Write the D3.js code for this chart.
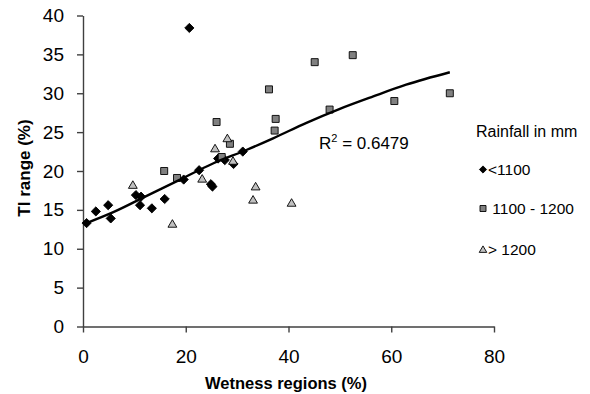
<!DOCTYPE html>
<html>
<head>
<meta charset="utf-8">
<script src="https://cdn.jsdelivr.net/npm/d3@7"></script>
<style>
  html, body { margin: 0; padding: 0; background: #fff; }
  svg { display: block; font-family: "Liberation Sans", Arial, sans-serif; }
</style>
</head>
<body>
<svg id="chart" width="590" height="394"></svg>
<script>
// ---- data ----
const lowRainX  = [0.7, 2.5, 4.9, 5.4, 10.3, 11.3, 11.1, 13.4, 15.9, 19.6, 22.6, 24.9, 25.2, 26.3, 27.6, 29.3, 31.1, 20.7];
const lowRainY  = [13.3, 14.8, 15.6, 13.9, 16.9, 16.7, 15.6, 15.2, 16.4, 18.9, 20.1, 18.3, 18.0, 21.6, 21.4, 20.9, 22.5, 38.4];
const midRainX  = [15.8, 18.3, 26.0, 27.0, 28.6, 36.2, 37.5, 37.3, 45.1, 52.5, 48.0, 60.6, 71.4];
const midRainY  = [20.0, 19.1, 26.3, 21.8, 23.5, 30.5, 26.7, 25.2, 34.0, 34.9, 27.9, 29.0, 30.0];
const highRainX = [9.7, 17.4, 23.2, 25.7, 28.1, 29.2, 33.6, 33.1, 40.6];
const highRainY = [18.2, 13.2, 19.0, 22.9, 24.2, 21.3, 18.0, 16.3, 15.9];
const trendX    = [0.7, 5.9, 12.4, 18.9, 25.4, 31.8, 37.0, 43.5, 50.0, 56.5, 62.9, 71.4];
const trendY    = [13.3, 14.7, 16.8, 18.9, 21.0, 22.7, 24.2, 26.2, 28.0, 29.6, 31.1, 32.7];
const xTicks    = [0, 20, 40, 60, 80];
const yTicks    = [0, 5, 10, 15, 20, 25, 30, 35, 40];
const seriesNames = ["<1100", " 1100 - 1200", "> 1200"];
const legendTitle = "Rainfall in mm";
const rSquaredText = "0.6479";
const xTitle = "Wetness regions (%)";
const yTitle = "TI range (%)";

// ---- layout ----
const svg = d3.select("#chart");
const x = d3.scaleLinear().domain([0, 80]).range([83, 494]);
const y = d3.scaleLinear().domain([0, 40]).range([326.5, 15.5]);

// marker shapes
function diamond(s) { return `M0,${-s}L${s},0L0,${s}L${-s},0Z`; }
function square(s) { return `M${-s},${-s}H${s}V${s}H${-s}Z`; }
function triangle(s) { return `M0,${-s}L${s*1.05},${s*0.8}L${-s*1.05},${s*0.8}Z`; }

const series = [
  { name: seriesNames[0], xs: lowRainX, ys: lowRainY, shape: diamond, size: 4.6, legSize: 3.6, fill: "#000", stroke: "#000" },
  { name: seriesNames[1], xs: midRainX, ys: midRainY, shape: square, size: 3.5, legSize: 3.0, fill: "#808080", stroke: "#000" },
  { name: seriesNames[2], xs: highRainX, ys: highRainY, shape: triangle, size: 4.2, legSize: 3.6, fill: "#c0c0c0", stroke: "#000" }
];

// axes
const xAxis = d3.axisBottom(x).tickValues(xTicks).tickSize(6).tickSizeOuter(0).tickPadding(10);
const yAxis = d3.axisLeft(y).tickValues(yTicks).tickSize(6).tickSizeOuter(0).tickPadding(13);

const gx = svg.append("g").attr("transform", `translate(0,${y(0)})`).call(xAxis);
const gy = svg.append("g").attr("transform", `translate(${x(0)},0)`).call(yAxis);
[gx, gy].forEach(g => {
  g.select(".domain").attr("stroke", "#404040").attr("stroke-width", 1.4);
  g.selectAll(".tick line").attr("stroke", "#404040").attr("stroke-width", 1.4);
  g.selectAll(".tick text").attr("fill", "#000").style("font-size", "19px")
    .style("font-family", "'Liberation Sans', Arial, sans-serif");
});
gx.selectAll(".tick text").attr("dy", "0.71em").attr("y", 23);

// points
series.forEach(s => {
  svg.append("g").selectAll("path")
    .data(s.xs.map((v, i) => [v, s.ys[i]]))
    .join("path")
    .attr("transform", d => `translate(${x(d[0])},${y(d[1])})`)
    .attr("d", s.shape(s.size))
    .attr("fill", s.fill)
    .attr("stroke", s.stroke)
    .attr("stroke-width", 0.9);
});

// trend line
const line = d3.line().x(d => x(d[0])).y(d => y(d[1])).curve(d3.curveMonotoneX);
svg.append("path")
  .datum(trendX.map((v, i) => [v, trendY[i]]))
  .attr("d", line)
  .attr("fill", "none")
  .attr("stroke", "#000")
  .attr("stroke-width", 2.4);

// R^2 label
const r2 = svg.append("text").attr("x", 319).attr("y", 148.5)
  .style("font-size", "17px").attr("fill", "#000");
r2.append("tspan").text("R");
r2.append("tspan").attr("dy", -7).style("font-size", "11px").text("2");
r2.append("tspan").attr("dy", 7).text(" = " + rSquaredText);

// axis titles
svg.append("text").attr("x", 286).attr("y", 389)
  .attr("text-anchor", "middle").style("font-size", "16.5px").style("font-weight", "bold")
  .text(xTitle);
svg.append("text").attr("transform", "translate(30,168) rotate(-90)")
  .attr("text-anchor", "middle").style("font-size", "17px").style("font-weight", "bold")
  .text(yTitle);

// legend
svg.append("text").attr("x", 476).attr("y", 137).style("font-size", "16px").text(legendTitle);
const legY = [169.5, 208.5, 249.5];
series.forEach((s, i) => {
  svg.append("path").attr("transform", `translate(483,${legY[i]})`)
    .attr("d", s.shape(s.legSize)).attr("fill", s.fill).attr("stroke", s.stroke).attr("stroke-width", 0.9);
  svg.append("text").attr("x", 488).attr("y", legY[i] + 5.5)
    .style("font-size", "15.5px").style("white-space", "pre").text(s.name);
});
</script>
</body>
</html>
